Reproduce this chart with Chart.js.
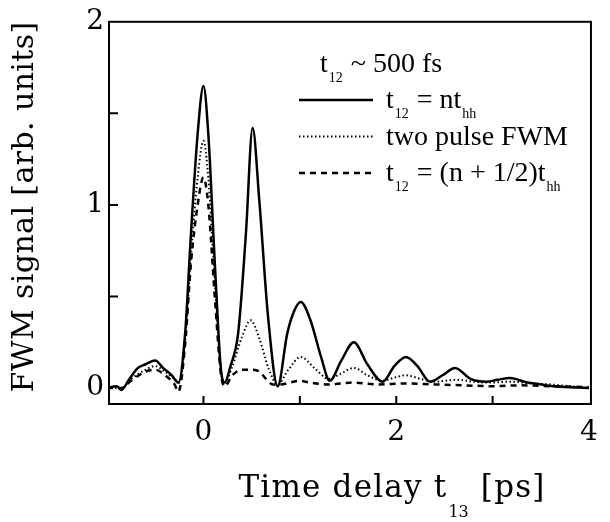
<!DOCTYPE html>
<html>
<head>
<meta charset="utf-8">
<script src="https://cdn.jsdelivr.net/npm/chart.js@4.4.1/dist/chart.umd.min.js"></script>
<style>
  html, body { margin: 0; padding: 0; background: #fff; }
  canvas { display: block; }
</style>
</head>
<body>
<canvas id="grafico" width="610" height="522"></canvas>
<script>
// dados: tempo (ps) e sinal FWM (u.a.)
const tSolid = [-1.0, -0.9, -0.85, -0.78, -0.68, -0.6, -0.5, -0.42, -0.33, -0.26, -0.19, -0.13, -0.06, 0.0, 0.05, 0.12, 0.18, 0.22,
  0.28, 0.36, 0.44, 0.51, 0.58, 0.67, 0.77, 0.87, 0.94, 1.01, 1.11, 1.22, 1.31, 1.43, 1.56, 1.7, 1.86, 1.98, 2.1, 2.22, 2.35,
  2.48, 2.61, 2.77, 2.94, 3.05, 3.18, 3.36, 3.5, 3.63, 3.8, 4.0];
const ySolid = [0.0, 0.01, -0.01, 0.04, 0.11, 0.13, 0.15, 0.11, 0.07, 0.03, 0.3, 0.84, 1.39, 1.65, 1.39, 0.66, 0.11, 0.03,
  0.12, 0.3, 0.84, 1.42, 1.02, 0.39, 0.01, 0.3, 0.42, 0.47, 0.37, 0.17, 0.04, 0.15, 0.25, 0.13, 0.035, 0.12, 0.17, 0.12, 0.035,
  0.07, 0.11, 0.05, 0.035, 0.045, 0.055, 0.03, 0.02, 0.01, 0.005, 0.0];

const tDotted = [-1.0, -0.85, -0.75, -0.6, -0.5, -0.4, -0.3, -0.25, -0.19, -0.13, -0.06, 0.0, 0.05, 0.12, 0.18, 0.22, 0.3, 0.4,
  0.49, 0.58, 0.68, 0.77, 0.88, 1.01, 1.15, 1.3, 1.43, 1.56, 1.7, 1.86, 2.0, 2.1, 2.25, 2.4, 2.63, 2.8, 2.95, 3.2, 3.4, 3.6, 3.8, 4.0];
const yDotted = [0.0, 0.0, 0.05, 0.1, 0.12, 0.09, 0.05, 0.03, 0.26, 0.72, 1.15, 1.35, 1.15, 0.56, 0.1, 0.03, 0.12, 0.28,
  0.37, 0.27, 0.1, 0.02, 0.1, 0.17, 0.11, 0.05, 0.08, 0.11, 0.07, 0.04, 0.06, 0.07, 0.05, 0.035, 0.045, 0.035, 0.03, 0.035, 0.025, 0.02, 0.01, 0.0];

const tDashed = [-1.0, -0.85, -0.75, -0.6, -0.5, -0.4, -0.3, -0.26, -0.19, -0.13, -0.06, 0.0, 0.05, 0.12, 0.18, 0.22, 0.3, 0.4,
  0.5, 0.58, 0.65, 0.72, 0.8, 0.9, 1.0, 1.1, 1.3, 1.56, 1.8, 2.1, 2.4, 2.7, 3.0, 3.3, 3.6, 4.0];
const yDashed = [0.0, 0.0, 0.04, 0.09, 0.1, 0.07, 0.02, -0.02, 0.24, 0.68, 1.0, 1.15, 1.0, 0.48, 0.08, 0.01, 0.07, 0.1,
  0.1, 0.09, 0.05, 0.02, 0.02, 0.03, 0.04, 0.03, 0.02, 0.03, 0.02, 0.025, 0.02, 0.015, 0.01, 0.015, 0.01, 0.005];

const xTickValues = [-1, 0, 1, 2, 3, 4];
const xTickLabels = [0, 2, 4];
const xMinorTicks = [0, 1, 2, 3];
const yTickValues = [0, 0.5, 1, 1.5, 2];
const yTickLabels = [0, 1, 2];
const yMinorTicks = [0.5, 1, 1.5];

// legenda com subscritos: [texto, subscrito?]
const legendTitle = [['t'], ['12', 1], [' ~ 500 fs']];
const legendLabels = [
  [['t'], ['12', 1], [' = nt'], ['hh', 1]],
  [['two pulse FWM']],
  [['t'], ['12', 1], [' = (n + 1/2)t'], ['hh', 1]]
];
const xTitle = [['Time delay t'], ['13', 1], [' [ps]']];
const yTitle = 'FWM signal [arb. units]';

const pts = (xs, ys) => xs.map((v, i) => ({ x: v, y: ys[i] }));

const serif = '"DejaVu Serif", serif';
const times = '"Liberation Serif", "Times New Roman", serif';

function richWidth(ctx, parts, font, subFont, sp) {
  let w = 0;
  parts.forEach(p => {
    ctx.font = p[1] ? subFont : font;
    ctx.letterSpacing = p[1] ? '0px' : (sp || '0px');
    w += ctx.measureText(p[0]).width + (p[1] ? 2 : 0);
  });
  return w;
}
function drawRich(ctx, x, y, parts, font, subFont, subDy, sp) {
  parts.forEach(p => {
    ctx.font = p[1] ? subFont : font;
    ctx.letterSpacing = p[1] ? '0px' : (sp || '0px');
    ctx.fillText(p[0], x + (p[1] ? 1 : 0), y + (p[1] ? subDy : 0));
    x += ctx.measureText(p[0]).width + (p[1] ? 2 : 0);
  });
  ctx.letterSpacing = '0px';
}

const extras = {
  id: 'extras',
  afterDraw(chart) {
    const { ctx, chartArea: a, scales: { x, y } } = chart;
    ctx.save();
    ctx.strokeStyle = '#000';
    ctx.fillStyle = '#000';
    ctx.lineWidth = 2;
    ctx.setLineDash([]);
    ctx.strokeRect(a.left, a.top, a.right - a.left, a.bottom - a.top);

    // marcas internas
    ctx.beginPath();
    xMinorTicks.forEach(v => { const p = x.getPixelForValue(v); ctx.moveTo(p, a.bottom); ctx.lineTo(p, a.bottom - 8); });
    yMinorTicks.forEach(v => { const p = y.getPixelForValue(v); ctx.moveTo(a.left, p); ctx.lineTo(a.left + 9, p); });
    ctx.stroke();

    // legenda
    ctx.textBaseline = 'alphabetic';
    ctx.textAlign = 'left';
    const f = '28px ' + times, sf = '14px ' + times;
    drawRich(ctx, 320, 72, legendTitle, f, sf, 10);
    const ds = chart.data.datasets;
    legendLabels.forEach((parts, i) => {
      const cy = 100 + i * 36.5;
      ctx.save();
      ctx.lineWidth = ds[i].borderWidth;
      ctx.setLineDash(ds[i].borderDash || []);
      ctx.beginPath(); ctx.moveTo(299, cy); ctx.lineTo(373, cy); ctx.stroke();
      ctx.restore();
      drawRich(ctx, 386, cy + 8, parts, f, sf, 10);
    });

    // titulos dos eixos
    const tf = '31px ' + serif, tsf = '16px ' + serif;
    const w = richWidth(ctx, xTitle, tf, tsf, '1.2px');
    drawRich(ctx, 392 - w / 2, 497, xTitle, tf, tsf, 20, '1.2px');

    ctx.font = '30px ' + serif;
    ctx.letterSpacing = '0.4px';
    ctx.translate(33, (a.top + a.bottom) / 2 - 6);
    ctx.rotate(-Math.PI / 2);
    ctx.textAlign = 'center';
    ctx.fillText(yTitle, 0, 0);
    ctx.restore();
  }
};

new Chart(document.getElementById('grafico').getContext('2d'), {
  type: 'line',
  data: {
    datasets: [{
      label: 't12 = nt_hh',
      data: pts(tSolid, ySolid),
      borderColor: '#000',
      borderWidth: 2.5,
      borderDash: []
    }, {
      label: 'two pulse FWM',
      data: pts(tDotted, yDotted),
      borderColor: '#000',
      borderWidth: 2,
      borderDash: [1.5, 2.5]
    }, {
      label: 't12 = (n + 1/2)t_hh',
      data: pts(tDashed, yDashed),
      borderColor: '#000',
      borderWidth: 2.5,
      borderDash: [6, 5]
    }]
  },
  options: {
    responsive: false,
    animation: false,
    devicePixelRatio: 1,
    elements: { point: { radius: 0 }, line: { cubicInterpolationMode: 'monotone', fill: false } },
    layout: { padding: { top: 20, right: 18, left: 0, bottom: 0 } },
    plugins: { legend: { display: false }, tooltip: { enabled: false } },
    scales: {
      x: {
        type: 'linear',
        min: -0.98,
        max: 4.02,
        grid: { display: false, drawTicks: false },
        border: { display: false },
        afterBuildTicks: s => { s.ticks = xTickValues.map(v => ({ value: v })); },
        afterFit: s => { s.height = 118; },
        ticks: {
          color: '#000',
          font: { family: serif, size: 28 },
          padding: 12,
          maxRotation: 0,
          autoSkip: false,
          callback: v => xTickLabels.includes(v) ? String(v) : ''
        }
      },
      y: {
        min: -0.087,
        max: 2,
        grid: { display: false, drawTicks: false },
        border: { display: false },
        afterBuildTicks: s => { s.ticks = yTickValues.map(v => ({ value: v })); },
        afterFit: s => { s.width = 109; },
        ticks: {
          color: '#000',
          font: { family: serif, size: 28 },
          padding: 5,
          autoSkip: false,
          callback: v => yTickLabels.includes(v) ? String(v) : ''
        }
      }
    }
  },
  plugins: [extras]
});
</script>
</body>
</html>
